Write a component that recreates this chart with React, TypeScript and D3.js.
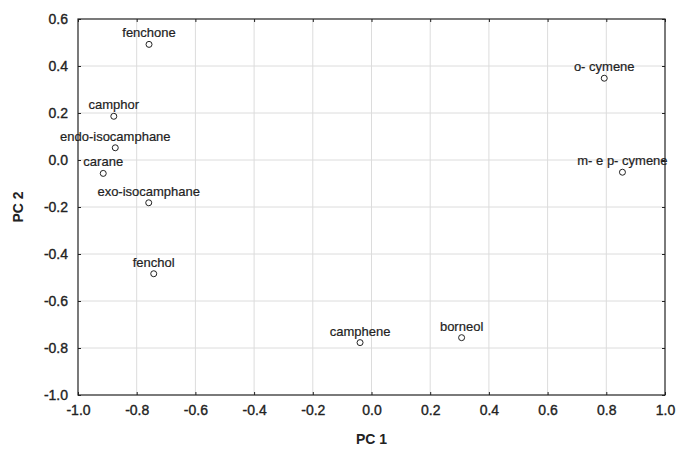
import React, { useEffect, useRef } from 'react';
import * as d3 from 'd3';

const compounds = ['fenchone', 'camphor', 'endo-isocamphane', 'carane', 'exo-isocamphane', 'fenchol', 'camphene', 'borneol', 'o- cymene', 'm- e p- cymene'];
const pc1 = [-0.758, -0.878, -0.873, -0.914, -0.759, -0.742, -0.039, 0.307, 0.793, 0.855];
const pc2 = [0.492, 0.186, 0.052, -0.057, -0.182, -0.484, -0.777, -0.756, 0.348, -0.052];
const xTicks = [-1.0, -0.8, -0.6, -0.4, -0.2, 0.0, 0.2, 0.4, 0.6, 0.8, 1.0];
const yTicks = [-1.0, -0.8, -0.6, -0.4, -0.2, 0.0, 0.2, 0.4, 0.6];

const W = 676;
const H = 449;
const margin = { top: 19, right: 11, bottom: 54, left: 78 };

export default function App() {
  const ref = useRef<SVGSVGElement>(null);

  useEffect(() => {
    const svg = d3.select(ref.current);
    svg.selectAll('*').remove();

    const iw = W - margin.left - margin.right;
    const ih = H - margin.top - margin.bottom;
    const font = 'Arial, "Liberation Sans", Helvetica, sans-serif';

    const x = d3.scaleLinear().domain([-1, 1]).range([0, iw]);
    const y = d3.scaleLinear().domain([-1, 0.6]).range([ih, 0]);

    const g = svg.append('g').attr('transform', `translate(${margin.left},${margin.top})`);

    // grid
    g.append('g')
      .selectAll('line')
      .data(xTicks.slice(1, -1))
      .enter()
      .append('line')
      .attr('x1', d => x(d)).attr('x2', d => x(d))
      .attr('y1', 0).attr('y2', ih)
      .attr('stroke', '#dcdcdc').attr('stroke-width', 1);
    g.append('g')
      .selectAll('line')
      .data(yTicks.slice(1, -1))
      .enter()
      .append('line')
      .attr('y1', d => y(d)).attr('y2', d => y(d))
      .attr('x1', 0).attr('x2', iw)
      .attr('stroke', '#dcdcdc').attr('stroke-width', 1);

    // axes, ticks inside on all four sides; hyphen minus like the original
    const fmt = (d: number) => d.toFixed(1);
    const styleAxis = (sel: any, hideText: boolean) => {
      sel.select('.domain').remove();
      sel.selectAll('.tick line').attr('stroke', '#222');
      sel.selectAll('.tick text')
        .attr('font-family', font)
        .attr('font-size', 14)
        .attr('fill', '#222')
        .attr('stroke', '#222')
        .attr('stroke-width', 0.35);
      if (hideText) sel.selectAll('.tick text').remove();
    };

    g.append('g')
      .attr('transform', `translate(0,${ih})`)
      .call(d3.axisBottom(x).tickValues(xTicks).tickFormat(d => fmt(d as number)).tickSizeInner(-3).tickPadding(10))
      .call(s => styleAxis(s, false));
    g.append('g')
      .call(d3.axisTop(x).tickValues(xTicks).tickSizeInner(-3))
      .call(s => styleAxis(s, true));
    g.append('g')
      .call(d3.axisLeft(y).tickValues(yTicks).tickFormat(d => fmt(d as number)).tickSizeInner(-3).tickPadding(10))
      .call(s => styleAxis(s, false));
    g.append('g')
      .attr('transform', `translate(${iw},0)`)
      .call(d3.axisRight(y).tickValues(yTicks).tickSizeInner(-3))
      .call(s => styleAxis(s, true));

    // frame
    g.append('rect')
      .attr('x', 0).attr('y', 0).attr('width', iw).attr('height', ih)
      .attr('fill', 'none').attr('stroke', '#222').attr('stroke-width', 1.2);

    // points
    const data = compounds.map((name, i) => ({ name, px: pc1[i], py: pc2[i] }));
    g.selectAll('circle.pt')
      .data(data)
      .enter()
      .append('circle')
      .attr('class', 'pt')
      .attr('cx', d => x(d.px))
      .attr('cy', d => y(d.py))
      .attr('r', 3)
      .attr('fill', 'white')
      .attr('stroke', '#222')
      .attr('stroke-width', 1);

    g.selectAll('text.lbl')
      .data(data)
      .enter()
      .append('text')
      .attr('class', 'lbl')
      .attr('x', d => x(d.px))
      .attr('y', d => y(d.py) - 7)
      .attr('text-anchor', 'middle')
      .attr('font-family', font)
      .attr('font-size', 13)
      .attr('fill', '#222')
      .attr('stroke', '#222')
      .attr('stroke-width', 0.2)
      .text(d => d.name);

    // axis titles
    svg.append('text')
      .attr('x', margin.left + x(0))
      .attr('y', 444)
      .attr('text-anchor', 'middle')
      .attr('font-family', font)
      .attr('font-size', 14)
      .attr('font-weight', 'bold')
      .attr('fill', '#222')
      .text('PC 1');
    svg.append('text')
      .attr('transform', `translate(23,${margin.top + y(-0.2)}) rotate(-90)`)
      .attr('text-anchor', 'middle')
      .attr('font-family', font)
      .attr('font-size', 14)
      .attr('font-weight', 'bold')
      .attr('fill', '#222')
      .text('PC 2');
  }, []);

  return (
    <svg
      ref={ref}
      width={W}
      height={H}
      style={{ position: 'absolute', left: 0, top: 0, background: 'white' }}
    />
  );
}
